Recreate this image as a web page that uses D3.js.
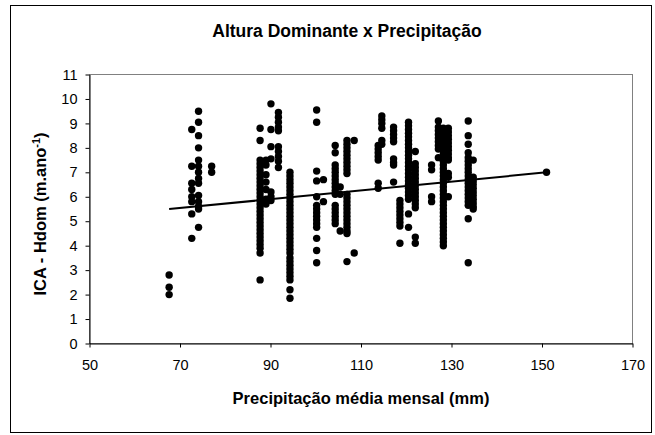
<!DOCTYPE html>
<html>
<head>
<meta charset="utf-8">
<script src="https://cdn.jsdelivr.net/npm/d3@7"></script>
<style>
  html, body { margin: 0; padding: 0; background: #fff; }
  svg { display: block; font-family: "Liberation Sans", Arial, sans-serif; }
</style>
</head>
<body>
<svg id="chart" width="655" height="435"></svg>
<script>
// Mean monthly precipitation (mm) of each site
const precipitation = [
  67.6, 72.6, 74.1, 77.0, 87.7, 89.0, 90.1, 91.75, 94.3, 100.2,
  101.7, 104.3, 105.4, 106.9, 108.5, 113.8, 114.6, 117.2, 118.6, 120.5,
  122.0, 125.6, 127.1, 128.2, 129.3, 133.7, 134.8, 151.0
];

// Dominant height increment (ICA - Hdom, m/year) observed at each site
const icaHdom = [
  [2.8, 2.3, 2.0],
  [8.75, 7.25, 6.55, 6.3, 6.0, 5.8, 5.3, 4.3],
  [9.5, 9.05, 8.5, 8.0, 7.5, 7.25, 7.0, 6.75, 6.55, 6.05, 5.8, 5.6, 5.5, 4.75],
  [7.25, 7.0],
  [8.8, 8.3, 7.5, 7.35, 7.2, 7.05, 6.9, 6.75, 6.6, 6.45, 6.3, 6.15, 6.0, 5.85, 5.7, 5.55, 5.4, 5.25, 5.1, 4.95, 4.8, 4.65, 4.5, 4.35, 4.2, 4.05, 3.9, 3.7, 2.6],
  [7.5, 7.3, 6.9, 6.6, 6.3, 5.9, 5.7],
  [9.8, 8.75, 8.05, 7.55, 6.2, 6.0, 5.85],
  [9.45, 9.25, 9.05, 8.85, 8.7, 8.05, 7.85, 7.65, 7.45, 7.2],
  [7.0, 6.85, 6.7, 6.55, 6.4, 6.25, 6.1, 5.95, 5.8, 5.65, 5.5, 5.35, 5.2, 5.05, 4.9, 4.75, 4.6, 4.45, 4.3, 4.15, 4.0, 3.85, 3.7, 3.5, 3.35, 3.2, 3.05, 2.9, 2.75, 2.6, 2.2, 1.85],
  [9.55, 9.05, 7.05, 6.65, 6.0, 5.65, 5.5, 5.35, 5.2, 5.05, 4.9, 4.75, 4.3, 3.8, 3.3],
  [6.7, 5.8],
  [8.1, 7.8, 7.3, 7.15, 7.0, 6.85, 6.7, 6.55, 6.4, 6.25, 6.1, 5.65, 5.5, 5.35, 5.2, 5.05, 4.9],
  [6.4, 6.1, 4.6],
  [8.3, 8.15, 8.0, 7.85, 7.7, 7.55, 7.4, 7.25, 7.1, 6.95, 6.1, 5.95, 5.8, 5.65, 5.5, 5.35, 5.2, 5.05, 4.9, 4.75, 4.6, 4.5, 3.35],
  [8.3, 3.7],
  [8.1, 7.95, 7.8, 7.65, 7.5, 6.55, 6.35],
  [9.3, 9.15, 9.0, 8.8, 8.3, 8.15],
  [8.85, 8.7, 8.55, 8.4, 8.25, 7.55, 7.4, 7.3, 6.6],
  [5.85, 5.7, 5.55, 5.4, 5.25, 5.1, 4.95, 4.8, 4.1],
  [9.05, 8.9, 8.75, 8.6, 8.45, 8.3, 8.15, 8.0, 7.85, 7.7, 7.55, 7.4, 7.25, 7.1, 6.95, 6.8, 6.65, 6.5, 6.35, 6.2, 6.05, 5.9, 5.3, 4.75],
  [7.85, 7.35, 7.2, 7.05, 6.9, 6.75, 6.6, 6.45, 6.3, 6.15, 6.0, 5.85, 5.7, 5.55, 4.35, 4.1],
  [7.3, 7.1, 6.0, 5.8],
  [9.1, 8.85, 8.7, 8.55, 8.4, 8.25, 8.1, 7.95, 7.6],
  [8.8, 8.65, 8.5, 8.35, 8.2, 8.05, 7.9, 7.75, 7.6, 7.45, 7.3, 7.15, 7.0, 6.85, 6.7, 6.55, 6.4, 6.25, 6.1, 5.95, 5.8, 5.65, 5.5, 5.35, 5.2, 5.05, 4.9, 4.75, 4.6, 4.45, 4.3, 4.15, 4.0],
  [8.8, 8.65, 8.5, 8.35, 8.2, 8.05, 7.9, 7.75, 7.6, 7.5, 6.95, 6.8, 6.0],
  [9.1, 8.5, 8.15, 7.8, 7.6, 7.45, 7.3, 7.15, 7.0, 6.85, 6.7, 6.55, 6.4, 6.25, 6.1, 5.95, 5.8, 5.65, 5.1, 3.3],
  [7.5, 6.8, 6.65, 6.5, 6.35, 6.2, 6.05, 5.9, 5.75, 5.6, 5.5],
  [7.0]
];

// Linear trend fitted to the observations: ICA = intercept + slope * precipitation
const trendIntercept = 4.28;
const trendSlope = 0.018;

const xTicks = [50, 70, 90, 110, 130, 150, 170];
const yTicks = [0, 1, 2, 3, 4, 5, 6, 7, 8, 9, 10, 11];

const chartTitle = "Altura Dominante x Precipitação";
const xTitle = "Precipitação média mensal (mm)";

const points = precipitation.flatMap((p, i) => icaHdom[i].map(v => ({ p, v })));

const svg = d3.select("#chart");
const FONT = '"Liberation Sans", Arial, sans-serif';

// chart frame
svg.append("rect")
  .attr("x", 10.5).attr("y", 5.5)
  .attr("width", 641).attr("height", 427)
  .attr("fill", "#fff").attr("stroke", "#000").attr("stroke-width", 1);

const x = d3.scaleLinear().domain([50, 170]).range([89.5, 632.5]);
const y = d3.scaleLinear().domain([0, 11]).range([343.5, 74.5]);

// plot area border
svg.append("rect")
  .attr("x", x(50)).attr("y", y(11))
  .attr("width", x(170) - x(50)).attr("height", y(0) - y(11))
  .attr("fill", "none").attr("stroke", "#808080").attr("stroke-width", 1);

// axes
const xAxis = svg.append("g")
  .attr("transform", `translate(0,${y(0)})`)
  .call(d3.axisBottom(x).tickValues(xTicks).tickSize(4).tickPadding(12).tickSizeOuter(0));
const yAxis = svg.append("g")
  .attr("transform", `translate(${x(50)},0)`)
  .call(d3.axisLeft(y).tickValues(yTicks).tickSize(4).tickPadding(8).tickSizeOuter(0));

[xAxis, yAxis].forEach(g => {
  g.select(".domain").attr("stroke", "#000").attr("stroke-width", 1);
  g.selectAll(".tick line").attr("stroke", "#000");
  g.selectAll(".tick text")
    .attr("fill", "#000")
    .style("font-family", FONT)
    .style("font-size", "14.5px");
});

// observations
svg.append("g")
  .selectAll("circle")
  .data(points)
  .join("circle")
  .attr("cx", d => x(d.p))
  .attr("cy", d => y(d.v))
  .attr("r", 3.7)
  .attr("fill", "#000");

// trend line over the observed precipitation range
const pMin = d3.min(precipitation), pMax = d3.max(precipitation);
svg.append("line")
  .attr("x1", x(pMin)).attr("y1", y(trendIntercept + trendSlope * pMin))
  .attr("x2", x(pMax)).attr("y2", y(trendIntercept + trendSlope * pMax))
  .attr("stroke", "#000").attr("stroke-width", 2);

// titles
svg.append("text")
  .attr("x", 347).attr("y", 37)
  .attr("text-anchor", "middle")
  .style("font-size", "17.5px").style("font-weight", "bold")
  .text(chartTitle);

svg.append("text")
  .attr("x", 361).attr("y", 404)
  .attr("text-anchor", "middle")
  .style("font-size", "16.5px").style("font-weight", "bold")
  .text(xTitle);

const yt = svg.append("text")
  .attr("transform", `translate(46,214) rotate(-90)`)
  .attr("text-anchor", "middle")
  .style("font-size", "16.5px").style("font-weight", "bold");
yt.append("tspan").text("ICA - Hdom (m.ano");
yt.append("tspan").attr("dy", -6).style("font-size", "11px").text("-1");
yt.append("tspan").attr("dy", 6).text(")");
</script>
</body>
</html>
